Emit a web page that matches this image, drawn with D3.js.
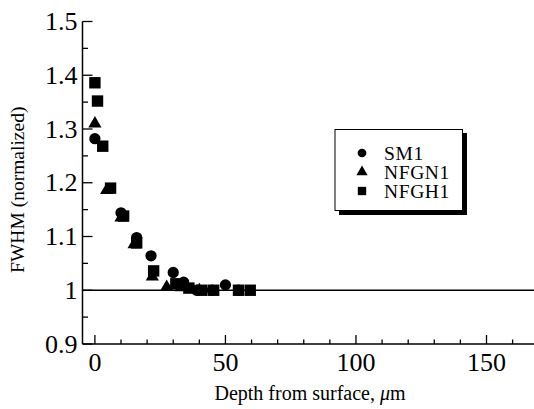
<!DOCTYPE html>
<html><head><meta charset="utf-8">
<script src="https://cdn.jsdelivr.net/npm/d3@7"></script>
<style>body{margin:0;background:#fff}svg{display:block}</style>
</head><body>
<svg id="c" width="534" height="409" font-family="'Liberation Serif', 'Times New Roman', Times, serif"></svg>
<script>
// Data
const sm1X = [0, 10, 16, 21.5, 30, 34, 39, 45, 50, 55];
const sm1Y = [1.282, 1.144, 1.098, 1.064, 1.033, 1.015, 1.0, 1.0, 1.01, 1.0];
const nfgn1X = [0, 4.5, 10, 15, 22, 27.5, 33, 40];
const nfgn1Y = [1.31, 1.186, 1.135, 1.085, 1.025, 1.006, 1.005, 1.0];
const nfgh1X = [0, 1, 3, 6, 11, 16, 22.5, 31, 36, 41, 45.5, 55, 59.5];
const nfgh1Y = [1.386, 1.352, 1.268, 1.19, 1.138, 1.088, 1.036, 1.012, 1.004, 1.0, 1.0, 1.0, 1.0];
const seriesNames = ["SM1", "NFGN1", "NFGH1"];
const xTickValues = [0, 50, 100, 150];
const yTickValues = [0.9, 1, 1.1, 1.2, 1.3, 1.4, 1.5];

const svg = d3.select("#c");
const x = d3.scaleLinear().domain([-4.75, 168]).range([82.5, 533.5]);
const y = d3.scaleLinear().domain([0.9, 1.5]).range([344, 21.5]);

// reference line at 1
svg.append("line").attr("x1", x(-4.75)).attr("x2", 534).attr("y1", y(1)).attr("y2", y(1))
  .attr("stroke", "#000").attr("stroke-width", 1.3);

// X axis
const gx = svg.append("g").attr("transform", `translate(0,${y(0.9)})`);
gx.append("line").attr("x1", x.range()[0]).attr("x2", 534).attr("stroke", "#000").attr("stroke-width", 1.5);
const xMinor = d3.range(0, 170, 10);
gx.selectAll(".xm").data(xMinor).join("line").attr("x1", d => x(d)).attr("x2", d => x(d))
  .attr("y1", 0).attr("y2", d => d % 50 === 0 ? -9 : -4.5).attr("stroke", "#000").attr("stroke-width", 1.3);
gx.selectAll(".xl").data(xTickValues).join("text").attr("x", d => x(d)).attr("y", 27)
  .attr("text-anchor", "middle").attr("font-size", 26).text(d => d);

// Y axis
const gy = svg.append("g").attr("transform", `translate(${x.range()[0]},0)`);
gy.append("line").attr("y1", y(0.9)).attr("y2", y(1.5)).attr("stroke", "#000").attr("stroke-width", 1.5);
const yMinor = d3.range(0.9, 1.5001, 0.05);
gy.selectAll(".ym").data(yMinor).join("line").attr("y1", d => y(d)).attr("y2", d => y(d))
  .attr("x1", 0).attr("x2", (d, i) => i % 2 === 0 ? 10 : 5.5).attr("stroke", "#000").attr("stroke-width", 1.3);
gy.selectAll(".yl").data(yTickValues).join("text").attr("x", -5).attr("y", d => y(d) + 8.5)
  .attr("text-anchor", "end").attr("font-size", 26).text(d => d3.format("")(+d.toFixed(1)));

// Axis titles
svg.append("text").attr("transform", `translate(24,${(y(0.9) + y(1.5)) / 2 + 7}) rotate(-90)`)
  .attr("text-anchor", "middle").attr("font-size", 19.5).text("FWHM (normalized)");
const xt = svg.append("text").attr("x", 310).attr("y", 400).attr("text-anchor", "middle").attr("font-size", 20);
xt.append("tspan").text("Depth from surface, ");
xt.append("tspan").attr("font-style", "italic").text("\u03bc");
xt.append("tspan").text("m");

// Markers
const sym = [d3.symbolCircle, d3.symbolTriangle, d3.symbolSquare];
const sizes = [100, 75, 130];
const series = [[sm1X, sm1Y], [nfgn1X, nfgn1Y], [nfgh1X, nfgh1Y]];
series.forEach((s, k) => {
  const pts = s[0].map((v, i) => [v, s[1][i]]);
  svg.append("g").selectAll("path").data(pts).join("path")
    .attr("transform", d => `translate(${x(d[0])},${y(d[1])})`)
    .attr("d", d3.symbol().type(sym[k]).size(sizes[k])).attr("fill", "#000");
});

// Legend
const lg = svg.append("g");
lg.append("rect").attr("x", 339).attr("y", 133).attr("width", 128).attr("height", 82).attr("fill", "#000");
lg.append("rect").attr("x", 335).attr("y", 129.5).attr("width", 127.5).attr("height", 81).attr("fill", "#fff").attr("stroke", "#000").attr("stroke-width", 1);
const legSizes = [60, 55, 70];
seriesNames.forEach((n, k) => {
  const ly = 153 + k * 19;
  lg.append("path").attr("transform", `translate(362,${ly})`).attr("d", d3.symbol().type(sym[k]).size(legSizes[k])).attr("fill", "#000");
  lg.append("text").attr("x", 384).attr("y", ly + 6.5).attr("font-size", 19.5).attr("letter-spacing", 0.6).text(n);
});
</script>
</body></html>
